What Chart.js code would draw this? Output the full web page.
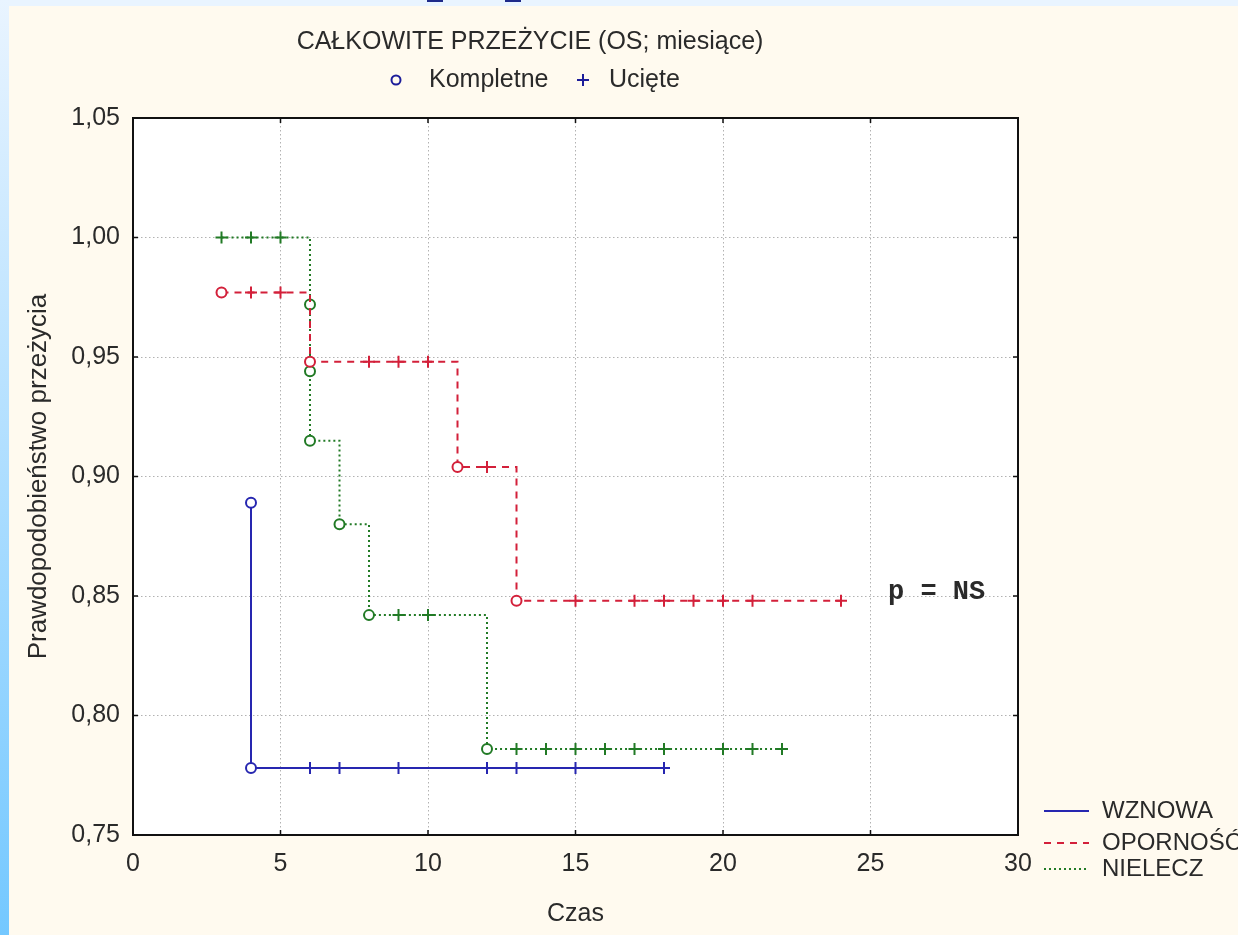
<!DOCTYPE html>
<html lang="pl">
<head>
<meta charset="utf-8">
<title>Całkowite przeżycie</title>
<script src="https://cdn.jsdelivr.net/npm/chart.js@4/dist/chart.umd.min.js"></script>
<style>
  html, body { margin: 0; padding: 0; }
  body { width: 1238px; height: 935px; background: #fffaef; position: relative; overflow: hidden; }
  #wykres { position: absolute; left: 0; top: 0; }
  .brzeg-lewy { position: absolute; left: 0; top: 0; width: 9px; height: 935px; background: linear-gradient(#e9f4ff, #74c8ff); }
  .brzeg-gorny { position: absolute; left: 0; top: 0; width: 1238px; height: 6px; background: #e9f4ff; }
  .znacznik { position: absolute; top: 0; width: 16px; height: 2px; background: #1e2a8a; }
</style>
</head>
<body>
<canvas id="wykres" width="1238" height="935"></canvas>
<div class="brzeg-gorny"></div>
<div class="brzeg-lewy"></div>
<div class="znacznik" style="left:427px"></div>
<div class="znacznik" style="left:505px"></div>
<script>
// Podziałki osi
const xTicks = [0, 5, 10, 15, 20, 25, 30];
const yTicks = [0.75, 0.80, 0.85, 0.90, 0.95, 1.00, 1.05];

// Krzywe Kaplana-Meiera: czas (miesiące), prawdopodobieństwo przeżycia,
// typ obserwacji: 'K' = kompletna, 'U' = ucięta
const wznowaCzas = [4, 4, 6, 7, 9, 12, 13, 15, 18];
const wznowaPrzezycie = [0.889, 0.778, 0.778, 0.778, 0.778, 0.778, 0.778, 0.778, 0.778];
const wznowaTyp = ['K', 'K', 'U', 'U', 'U', 'U', 'U', 'U', 'U'];

const opornoscCzas = [3, 4, 5, 6, 8, 9, 10, 11, 12, 13, 15, 17, 18, 19, 20, 21, 24];
const opornoscPrzezycie = [0.977, 0.977, 0.977, 0.948, 0.948, 0.948, 0.948, 0.904, 0.904,
                           0.848, 0.848, 0.848, 0.848, 0.848, 0.848, 0.848, 0.848];
const opornoscTyp = ['K', 'U', 'U', 'K', 'U', 'U', 'U', 'K', 'U', 'K', 'U', 'U', 'U', 'U', 'U', 'U', 'U'];

const nieleczCzas = [3, 4, 5, 6, 6, 6, 7, 8, 9, 10, 12, 13, 14, 15, 16, 17, 18, 20, 21, 22];
const nieleczPrzezycie = [1.000, 1.000, 1.000, 0.972, 0.944, 0.915, 0.880, 0.842, 0.842, 0.842,
                          0.786, 0.786, 0.786, 0.786, 0.786, 0.786, 0.786, 0.786, 0.786, 0.786];
const nieleczTyp = ['U', 'U', 'U', 'K', 'K', 'K', 'K', 'K', 'U', 'U', 'K', 'U', 'U', 'U', 'U', 'U', 'U', 'U', 'U', 'U'];

const grupy = [
  { nazwa: 'WZNOWA', czas: wznowaCzas, s: wznowaPrzezycie, typ: wznowaTyp, kolor: '#2626b0', kreska: [] },
  { nazwa: 'OPORNOŚĆ', czas: opornoscCzas, s: opornoscPrzezycie, typ: opornoscTyp, kolor: '#d3203a', kreska: [7, 6] },
  { nazwa: 'NIELECZ', czas: nieleczCzas, s: nieleczPrzezycie, typ: nieleczTyp, kolor: '#217a25', kreska: [2, 3] }
];

const FONT = '"Liberation Sans", Arial, sans-serif';
const TEKST = '#2a2a2a';

function zbiorDanych(g) {
  return {
    label: g.nazwa,
    data: g.czas.map((t, i) => ({ x: t, y: g.s[i] })),
    // spadek krzywej w chwili zdarzenia, potem poziomo do następnej obserwacji
    stepped: 'before',
    borderColor: g.kolor,
    borderWidth: 2,
    borderDash: g.kreska,
    fill: false,
    pointStyle: g.typ.map(t => t === 'K' ? 'circle' : 'cross'),
    pointRadius: g.typ.map(t => t === 'K' ? 5 : 6),
    pointHoverRadius: g.typ.map(t => t === 'K' ? 5 : 6),
    pointBorderWidth: 2,
    pointBorderColor: g.kolor,
    pointBackgroundColor: '#ffffff'
  };
}

// Ramka wykresu, wewnętrzne znaczniki, tytuł, opisy i legenda
const dodatki = {
  id: 'dodatki',
  beforeDraw(chart) {
    const { ctx, chartArea: a } = chart;
    ctx.save();
    ctx.fillStyle = '#ffffff';
    ctx.fillRect(a.left, a.top, a.right - a.left, a.bottom - a.top);
    ctx.restore();
  },
  afterDraw(chart) {
    const { ctx, chartArea: a, scales: { x, y } } = chart;
    ctx.save();
    ctx.strokeStyle = '#111111';
    ctx.lineWidth = 2;
    ctx.strokeRect(a.left, a.top, a.right - a.left, a.bottom - a.top);

    ctx.lineWidth = 1.5;
    ctx.beginPath();
    xTicks.forEach(v => {
      const px = x.getPixelForValue(v);
      ctx.moveTo(px, a.bottom); ctx.lineTo(px, a.bottom - 5);
      ctx.moveTo(px, a.top); ctx.lineTo(px, a.top + 5);
    });
    yTicks.forEach(v => {
      const py = y.getPixelForValue(v);
      ctx.moveTo(a.left, py); ctx.lineTo(a.left + 5, py);
      ctx.moveTo(a.right, py); ctx.lineTo(a.right - 5, py);
    });
    ctx.stroke();

    // Tytuł
    ctx.fillStyle = TEKST;
    ctx.font = '25px ' + FONT;
    ctx.textAlign = 'center';
    ctx.textBaseline = 'middle';
    ctx.fillText('CAŁKOWITE PRZEŻYCIE (OS; miesiące)', 530, 42);

    // Oznaczenia obserwacji
    const niebieski = '#1d1d9a';
    ctx.strokeStyle = niebieski;
    ctx.lineWidth = 2;
    ctx.beginPath();
    ctx.arc(396, 80, 4.5, 0, Math.PI * 2);
    ctx.stroke();
    ctx.beginPath();
    ctx.moveTo(577, 80); ctx.lineTo(589, 80);
    ctx.moveTo(583, 74); ctx.lineTo(583, 86);
    ctx.stroke();
    ctx.textAlign = 'left';
    ctx.fillText('Kompletne', 429, 80);
    ctx.fillText('Ucięte', 609, 80);

    // Wynik testu
    ctx.font = 'bold 27px "Liberation Mono", "Courier New", monospace';
    ctx.fillText('p = NS', 888, 592);

    // Legenda grup
    const wiersze = [811, 843, 869];
    ctx.font = '24px ' + FONT;
    grupy.forEach((g, i) => {
      const yy = wiersze[i];
      ctx.save();
      ctx.strokeStyle = g.kolor;
      ctx.lineWidth = 2;
      ctx.setLineDash(g.kreska);
      ctx.beginPath();
      ctx.moveTo(1044, yy); ctx.lineTo(1089, yy);
      ctx.stroke();
      ctx.restore();
      ctx.fillStyle = TEKST;
      ctx.fillText(g.nazwa, 1102, yy);
    });
    ctx.restore();
  }
};

Chart.defaults.font.family = FONT;
Chart.defaults.font.size = 25;
Chart.defaults.color = TEKST;

new Chart(document.getElementById('wykres'), {
  type: 'line',
  data: { datasets: grupy.map(zbiorDanych) },
  plugins: [dodatki],
  options: {
    responsive: false,
    animation: false,
    events: [],
    layout: { padding: { top: 118, right: 220, bottom: 0, left: 0 } },
    plugins: { legend: { display: false }, title: { display: false }, tooltip: { enabled: false } },
    scales: {
      x: {
        type: 'linear',
        min: 0, max: 30,
        afterFit(s) { s.height = 100; },
        afterBuildTicks(s) { s.ticks = xTicks.map(v => ({ value: v })); },
        ticks: { padding: 14, maxRotation: 0, callback: v => String(v) },
        grid: { drawTicks: false, color: '#b2b2b2', lineWidth: 1 },
        border: { display: false, dash: [1.5, 2.5] },
        title: { display: true, text: 'Czas', padding: { top: 0, bottom: 6 }, font: { size: 25 } }
      },
      y: {
        type: 'linear',
        min: 0.75, max: 1.05,
        afterFit(s) { s.width = 133; },
        afterBuildTicks(s) { s.ticks = yTicks.map(v => ({ value: v })); },
        ticks: { padding: 13, callback: v => v.toFixed(2).replace('.', ',') },
        grid: { drawTicks: false, color: '#b2b2b2', lineWidth: 1 },
        border: { display: false, dash: [1.5, 2.5] },
        title: { display: true, text: 'Prawdopodobieństwo przeżycia', padding: { top: 23, bottom: 0 }, font: { size: 26 } }
      }
    }
  }
});
</script>
</body>
</html>
